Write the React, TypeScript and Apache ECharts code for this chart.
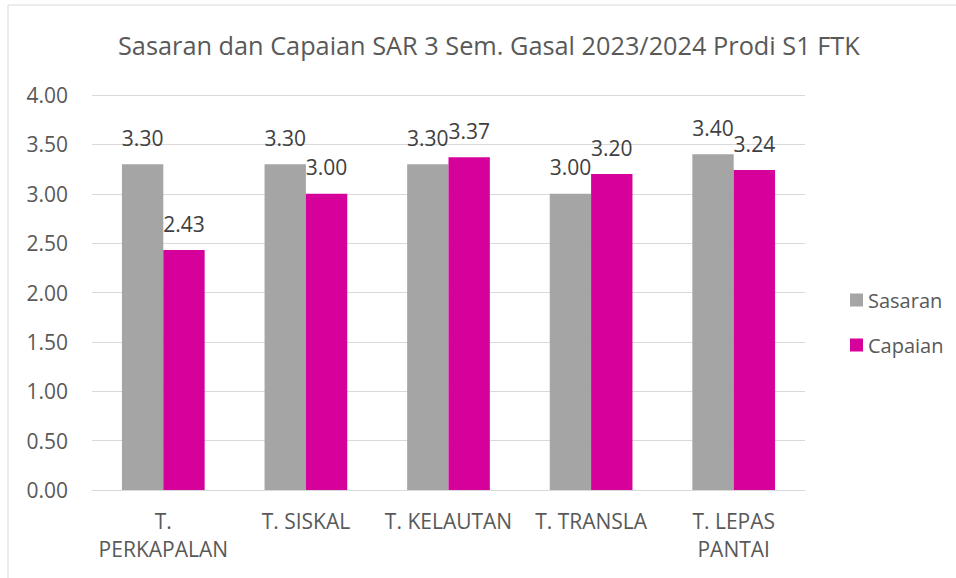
import React, { useEffect, useRef } from "react";
import * as echarts from "echarts";

const categories = ["T.\nPERKAPALAN", "T. SISKAL", "T. KELAUTAN", "T. TRANSLA", "T. LEPAS\nPANTAI"];
const sasaran = [3.3, 3.3, 3.3, 3.0, 3.4];
const capaian = [2.43, 3.0, 3.37, 3.2, 3.24];
const seriesNames = ["Sasaran", "Capaian"];
const titleText = "Sasaran dan Capaian SAR 3 Sem. Gasal 2023/2024 Prodi S1 FTK";

const FONT = "'Open Sans', sans-serif";

export default function App() {
  const ref = useRef<HTMLDivElement>(null);
  useEffect(() => {
    const chart = echarts.init(ref.current!, null, { renderer: "svg" });
    const label = {
      show: true,
      position: "top" as const,
      distance: 16,
      color: "#404040",
      fontFamily: FONT,
      fontSize: 21,
      formatter: (p: any) => Number(p.value).toFixed(2),
    };
    chart.setOption({
      animation: false,
      backgroundColor: "#ffffff",
      title: {
        text: titleText,
        left: 113,
        top: 27,
        textStyle: { fontFamily: FONT, fontSize: 25.3, fontWeight: "normal", color: "#595959" },
      },
      graphic: [
        {
          type: "rect",
          shape: { x: 8, y: 5, width: 960, height: 600 },
          style: { fill: "none", stroke: "#D9D9D9", lineWidth: 1 },
          silent: true,
        },
      ],
      legend: {
        orient: "vertical",
        left: 845,
        top: 285,
        itemWidth: 13,
        itemHeight: 13,
        itemGap: 25,
        icon: "rect",
        data: seriesNames,
        textStyle: { fontFamily: FONT, fontSize: 20, color: "#595959" },
      },
      grid: { left: 92, right: 151, top: 95, bottom: 88, containLabel: false },
      xAxis: {
        type: "category",
        data: categories,
        axisLine: { show: true, lineStyle: { color: "#D9D9D9", width: 1 } },
        axisTick: { show: false },
        axisLabel: {
          interval: 0,
          margin: 17,
          color: "#595959",
          fontFamily: FONT,
          fontSize: 21,
          lineHeight: 28,
        },
      },
      yAxis: {
        type: "value",
        min: 0,
        max: 4,
        interval: 0.5,
        axisLine: { show: false },
        axisTick: { show: false },
        splitLine: { lineStyle: { color: "#D9D9D9", width: 1 } },
        axisLabel: {
          margin: 24,
          color: "#595959",
          fontFamily: FONT,
          fontSize: 21,
          formatter: (v: number) => v.toFixed(2),
        },
      },
      series: [
        {
          name: seriesNames[0],
          type: "bar",
          data: sasaran,
          itemStyle: { color: "#A5A5A5" },
          barGap: "0%",
          barCategoryGap: "42%",
          label,
        },
        {
          name: seriesNames[1],
          type: "bar",
          data: capaian,
          itemStyle: { color: "#D6009A" },
          barGap: "0%",
          barCategoryGap: "42%",
          label,
        },
      ],
    });
    return () => chart.dispose();
  }, []);
  return (
    <div
      ref={ref}
      style={{ position: "absolute", left: 0, top: 0, width: 956, height: 578 }}
    />
  );
}
